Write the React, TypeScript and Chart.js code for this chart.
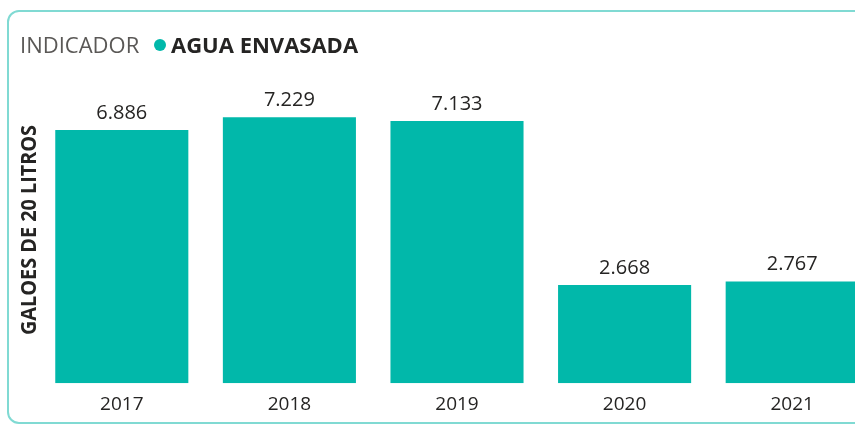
import React, { useEffect, useRef } from "react";
import { Chart, registerables } from "chart.js";

Chart.register(...registerables);

const categories = ["2017", "2018", "2019", "2020", "2021"];
const values = [6886, 7229, 7133, 2668, 2767];
const seriesName = "AGUA ENVASADA";
const legendTitle = "INDICADOR";
const yTitle = "GALOES DE 20 LITROS";

const TEAL = "#01B8AA";
const FONT = '"Open Sans", "Noto Sans", sans-serif';

const fmt = (v: number) => v.toLocaleString("de-DE");

const labelPlugin = {
  id: "barLabels",
  afterDatasetsDraw(chart: any) {
    const ctx = chart.ctx;
    const meta = chart.getDatasetMeta(0);
    ctx.save();
    ctx.font = `20px ${FONT}`;
    ctx.fillStyle = "#252423";
    ctx.textAlign = "center";
    ctx.textBaseline = "alphabetic";
    meta.data.forEach((bar: any, i: number) => {
      ctx.fillText(fmt(values[i]), bar.x, bar.y - 11);
    });
    // rotated y title
    ctx.font = `bold 21px ${FONT}`;
    const w = ctx.measureText(yTitle).width;
    const target = 210;
    ctx.translate(30, 230);
    ctx.rotate(-Math.PI / 2);
    ctx.scale(target / w, 1);
    ctx.textAlign = "center";
    ctx.textBaseline = "middle";
    ctx.fillStyle = "#252423";
    ctx.fillText(yTitle, 0, 0);
    ctx.restore();
  },
};

export default function App() {
  const ref = useRef<HTMLCanvasElement>(null);
  useEffect(() => {
    if (!ref.current) return;
    const chart = new Chart(ref.current, {
      type: "bar",
      data: {
        labels: categories,
        datasets: [
          {
            label: seriesName,
            data: values,
            backgroundColor: TEAL,
            borderWidth: 0,
            categoryPercentage: 1,
            barPercentage: 0.794,
          },
        ],
      },
      options: {
        animation: false,
        responsive: true,
        maintainAspectRatio: false,
        layout: { padding: { left: 38, right: 0, top: 89, bottom: 1 } },
        plugins: { legend: { display: false }, tooltip: { enabled: false } },
        scales: {
          x: {
            grid: { display: false, drawTicks: false },
            border: { display: false },
            ticks: { font: { size: 19, family: FONT }, color: "#252423", padding: 10 },
          },
          y: { display: false, min: 0, max: 8000 },
        },
      },
      plugins: [labelPlugin],
    });
    return () => chart.destroy();
  }, []);

  return (
    <div
      style={{
        position: "fixed",
        left: 0,
        top: 0,
        width: 855,
        height: 427,
        overflow: "hidden",
        background: "#fff",
      }}
    >
      <div
        style={{
          position: "absolute",
          left: 7,
          top: 10,
          width: 900,
          height: 414,
          border: "2px solid #80DAD3",
          borderRadius: 12,
          boxSizing: "border-box",
        }}
      />
      <div style={{ position: "absolute", left: 0, top: 0, width: 876, height: 427 }}>
        <canvas ref={ref} />
      </div>
      <span
        style={{
          position: "absolute",
          left: 20,
          top: 33,
          font: `22px/22px ${FONT}`,
          color: "#5A5856",
          whiteSpace: "nowrap",
        }}
      >
        {legendTitle}
      </span>
      <span
        style={{
          position: "absolute",
          left: 154,
          top: 39,
          width: 12,
          height: 12,
          borderRadius: "50%",
          background: TEAL,
        }}
      />
      <span
        style={{
          position: "absolute",
          left: 171,
          top: 33,
          font: `bold 22px/22px ${FONT}`,
          color: "#252423",
          whiteSpace: "nowrap",
        }}
      >
        {seriesName}
      </span>
    </div>
  );
}
